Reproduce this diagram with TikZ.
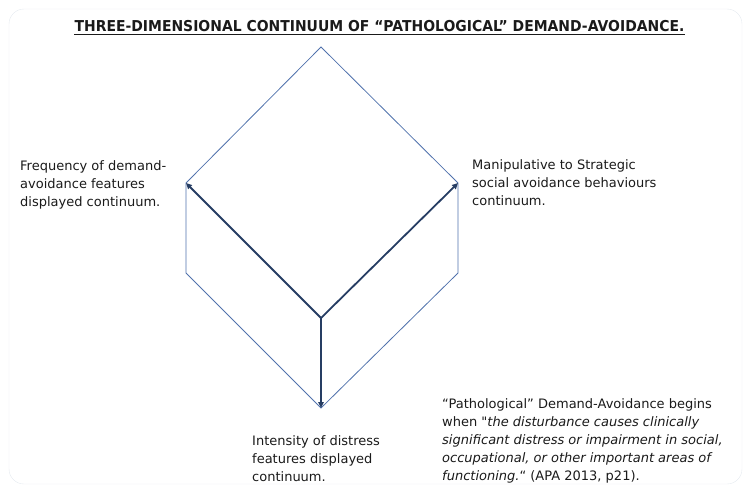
\documentclass[tikz,border=0pt]{standalone}
\usepackage{fontspec}
\setmainfont{DejaVu Sans}[Ligatures=TeXOff]
\newfontfamily\titlefont[FakeStretch=0.93]{DejaVu Sans}
\usetikzlibrary{arrows.meta}
\definecolor{cubeline}{HTML}{5072AC}
\definecolor{axisline}{HTML}{263D63}
\definecolor{framegray}{HTML}{E4E9EF}
\definecolor{inkblack}{HTML}{1A1A1A}

\begin{document}
\begin{tikzpicture}[x=1pt, y=-1pt,
	cubeside/.style={draw=cubeline, line width=.8pt, line join=miter},
	dimarrow/.style={draw=axisline, line width=1.8pt, -{Triangle[length=6pt,width=5.5pt]}},
	note/.style={align=left, inner sep=0pt, anchor=north west, text=inkblack, font=\fontsize{13}{18}\selectfont}]
	\useasboundingbox (0,0) rectangle (743,485);
	\draw[framegray, rounded corners=15pt] (9,9) rectangle (742,484);

	\node[inner sep=0pt, anchor=base, text=inkblack, font=\titlefont\bfseries\fontsize{15}{18}\selectfont] (title) at (379.5,31)
		{THREE-DIMENSIONAL CONTINUUM OF “PATHOLOGICAL” DEMAND-AVOIDANCE.};
	\draw[inkblack, line width=1.2pt] ([yshift=-3.5pt]title.base west) -- ([yshift=-3.5pt]title.base east);

	\coordinate (top)  at (321,47);
	\coordinate (ltop) at (186,183);
	\coordinate (lbot) at (186,273);
	\coordinate (bot)  at (321,408);
	\coordinate (rbot) at (458,273);
	\coordinate (rtop) at (458,183);
	\coordinate (mid)  at (321,318);

	\draw[cubeside] (top) -- (ltop) -- (lbot) -- (bot) -- (rbot) -- (rtop) -- cycle;
	\draw[dimarrow] (mid) -- (ltop);
	\draw[dimarrow] (mid) -- (rtop);
	\draw[dimarrow] (mid) -- (bot);

	\node[note] (frequency) at (20,160)  {Frequency of demand-\\avoidance features\\displayed continuum.};
	\node[note] (strategic) at (472,159) {Manipulative to Strategic\\social avoidance behaviours\\continuum.};
	\node[note] (intensity) at (252,435) {Intensity of distress\\features displayed\\continuum.};
	\node[note] (apaquote)  at (442,398) {“Pathological” Demand-Avoidance begins\\
		when \textit{"the disturbance causes clinically}\\
		\textit{significant distress or impairment in social,}\\
		\textit{occupational, or other important areas of}\\
		\textit{functioning.}“ (APA 2013, p21).};
\end{tikzpicture}
\end{document}
